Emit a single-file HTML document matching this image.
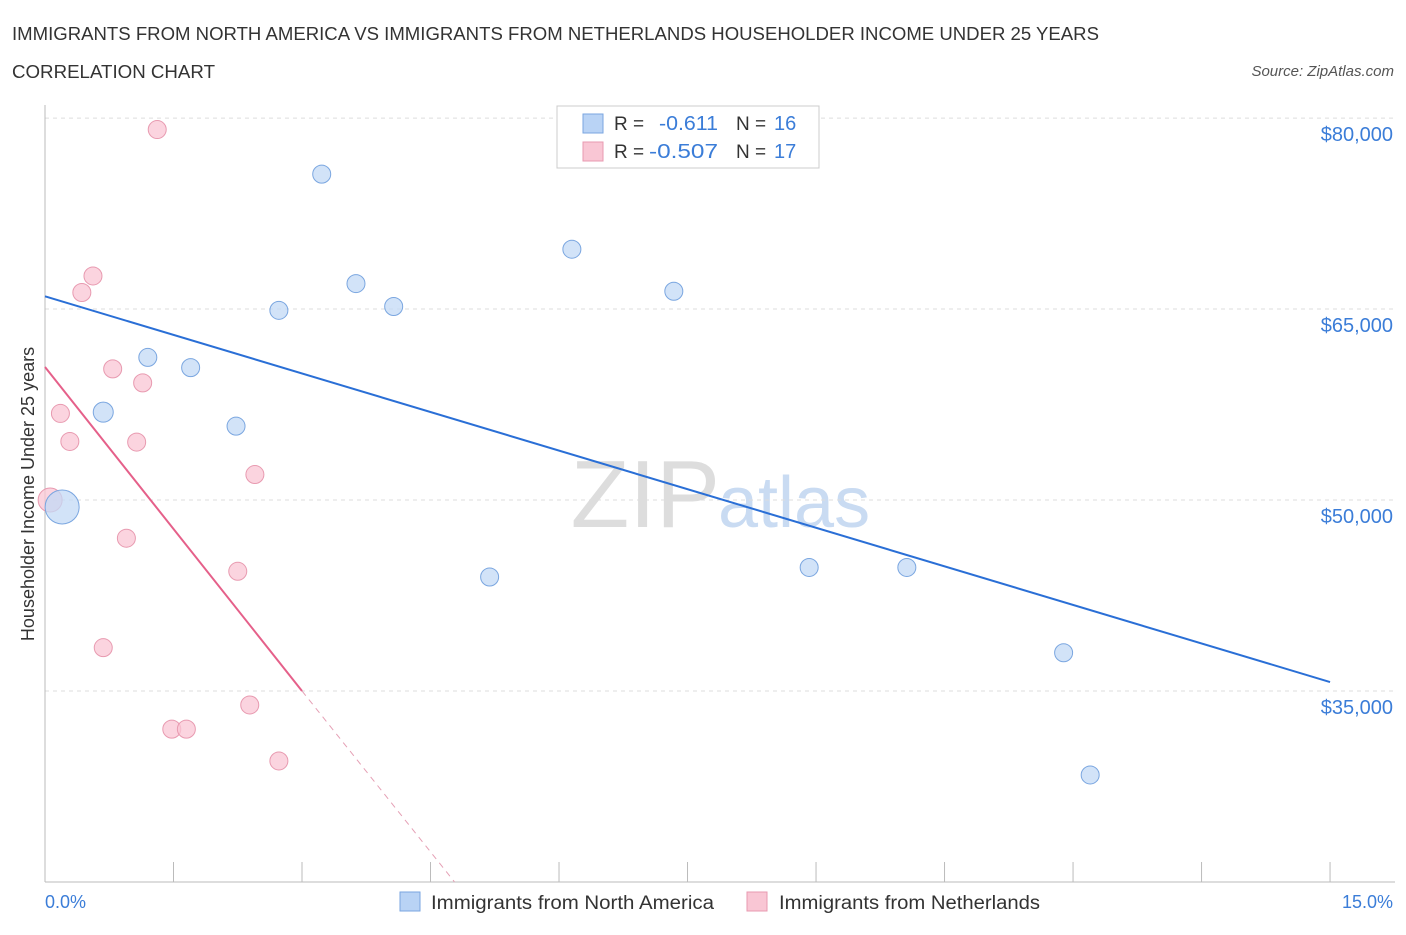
<!DOCTYPE html>
<html><head><meta charset="utf-8"><style>
body{margin:0;background:#fff;font-family:"Liberation Sans",sans-serif;}
svg text{font-family:"Liberation Sans",sans-serif;}
</style></head><body>
<svg width="1406" height="930" xmlns="http://www.w3.org/2000/svg" id="chart">
<text x="12" y="40" font-size="18" fill="#333" textLength="1087" lengthAdjust="spacingAndGlyphs">IMMIGRANTS FROM NORTH AMERICA VS IMMIGRANTS FROM NETHERLANDS HOUSEHOLDER INCOME UNDER 25 YEARS</text>
<text x="12" y="78" font-size="18" fill="#333" textLength="203" lengthAdjust="spacingAndGlyphs">CORRELATION CHART</text>
<text x="1394" y="76" font-size="15" fill="#555" font-style="italic" text-anchor="end">Source: ZipAtlas.com</text>
<text x="720" y="527" font-size="96" fill="#ddd" text-anchor="end" font-family="Liberation Serif">ZIP</text>
<text x="718" y="527" font-size="72" fill="#c9dbf2">atlas</text>
<g id="grid"></g><g id="axes"></g><g id="lines"></g><g id="pts"></g>
<text x="34" y="494" font-size="18" fill="#333" text-anchor="middle" transform="rotate(-90 34 494)">Householder Income Under 25 years</text>
<text x="45" y="908" font-size="18" fill="#3b7dd8">0.0%</text>
<text x="1393" y="908" font-size="18" fill="#3b7dd8" text-anchor="end">15.0%</text>
<g>
<rect x="557" y="106" width="262" height="62" fill="#fff" stroke="#ccc"/>
<rect x="583" y="114" width="20" height="19" fill="#b9d3f5" stroke="#7aa6e0"/>
<rect x="583" y="142" width="20" height="19" fill="#f9c6d4" stroke="#e89ab0"/>
<text x="614" y="130" font-size="19" fill="#333">R = </text><text x="659" y="130" font-size="20" fill="#3b7dd8" textLength="59" lengthAdjust="spacingAndGlyphs">-0.611</text>
<text x="736" y="130" font-size="19" fill="#333">N = </text><text x="774" y="130" font-size="20" fill="#3b7dd8">16</text>
<text x="614" y="158" font-size="19" fill="#333">R = </text><text x="649" y="158" font-size="20" fill="#3b7dd8" textLength="69" lengthAdjust="spacingAndGlyphs">-0.507</text>
<text x="736" y="158" font-size="19" fill="#333">N = </text><text x="774" y="158" font-size="20" fill="#3b7dd8">17</text>
</g>
<g><rect x="400" y="892" width="20" height="19" fill="#b9d3f5" stroke="#7aa6e0"/><text x="431" y="909" font-size="19" fill="#333" textLength="283" lengthAdjust="spacingAndGlyphs">Immigrants from North America</text></g>
<g><rect x="747" y="892" width="20" height="19" fill="#f9c6d4" stroke="#e89ab0"/><text x="779" y="909" font-size="19" fill="#333" textLength="261" lengthAdjust="spacingAndGlyphs">Immigrants from Netherlands</text></g>
</svg>
<script>
const yTicks=[80000,65000,50000,35000];
const yTickLabels=["$80,000","$65,000","$50,000","$35,000"];
const blueX=[3.23,6.15,3.63,7.34,2.73,4.07,1.20,1.70,0.68,2.23,0.20,5.19,8.92,10.06,11.89,12.20];
const blueY=[75600,69700,67000,66400,64900,65200,61200,60400,56900,55800,49450,43950,44700,44700,38000,28400];
const blueR=[9,9,9,9,9,9,9,9,10,9,17,9,9,9,9,9];
const pinkX=[1.31,0.56,0.43,0.79,1.14,0.18,0.29,1.07,2.45,0.06,0.95,2.25,0.68,2.39,1.48,1.65,2.73];
const pinkY=[79100,67600,66300,60300,59200,56800,54600,54550,52000,50000,47000,44400,38400,33900,32000,32000,29500];
const pinkR=[9,9,9,9,9,9,9,9,9,12,9,9,9,9,9,9,9];
const blueTrend=[66000,35700];
const pinkTrend=[60450,35000,20000];
const pinkTrendX=[0,3.0,4.78];
const NS="http://www.w3.org/2000/svg";
const X=v=>45+v*85.67, Y=v=>500-(v-50000)*0.01273;
function mk(t,a,p){const e=document.createElementNS(NS,t);for(const k in a)e.setAttribute(k,a[k]);document.getElementById(p).appendChild(e);return e;}
yTicks.forEach((t,i)=>{
 const l=mk('line',{x1:45,x2:1395,y1:Y(t),y2:Y(t),stroke:'#ddd','stroke-dasharray':'4,4'},'grid');
 
 
 const tx=mk('text',{x:1393,y:Y(t)+23,'font-size':20,fill:'#3b7dd8','text-anchor':'end'},'grid');
 tx.textContent=yTickLabels[i];
 
 
});
const ax=mk('line',{x1:45,x2:1395,y1:882,y2:882,stroke:'#bbb'},'axes');


const ay=mk('line',{x1:45,x2:45,y1:105,y2:882,stroke:'#bbb'},'axes');


for(let i=0;i<=10;i++){const t=mk('line',{x1:X(i*1.5),x2:X(i*1.5),y1:862,y2:882,stroke:'#bbb'},'axes');
 
 }
const bl=mk('line',{x1:X(0),y1:Y(blueTrend[0]),x2:X(15),y2:Y(blueTrend[1]),stroke:'#2a6fd6','stroke-width':2},'lines');


const pl=mk('line',{x1:X(pinkTrendX[0]),y1:Y(pinkTrend[0]),x2:X(pinkTrendX[1]),y2:Y(pinkTrend[1]),stroke:'#e5608a','stroke-width':2},'lines');


const pd=mk('line',{x1:X(pinkTrendX[1]),y1:Y(pinkTrend[1]),x2:X(pinkTrendX[2]),y2:Y(pinkTrend[2]),stroke:'#e5a0b5','stroke-width':1,'stroke-dasharray':'6,5'},'lines');


pinkX.forEach((x,i)=>{const c=mk('circle',{cx:X(x),cy:Y(pinkY[i]),r:pinkR[i],fill:'#f9c6d4','fill-opacity':0.75,stroke:'#e89ab0'},'pts');
 
 });
blueX.forEach((x,i)=>{const c=mk('circle',{cx:X(x),cy:Y(blueY[i]),r:blueR[i],fill:'#c3daf6','fill-opacity':0.75,stroke:'#7aa6e0'},'pts');
 
 });
</script>
</body></html>
